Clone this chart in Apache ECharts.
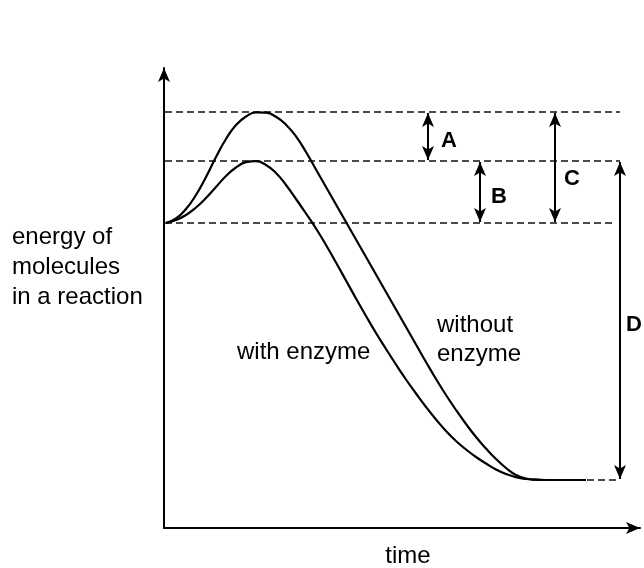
<!DOCTYPE html>
<html>
<head>
<meta charset="utf-8">
<script src="https://cdn.jsdelivr.net/npm/echarts@6/dist/echarts.min.js"></script>
<style>html,body{margin:0;padding:0;background:#fff}#c{width:644px;height:568px}</style>
</head>
<body>
<div id="c"></div>
<script>
// time / energy values (arbitrary units)
const timeX = [2,12,22,32,42,52,62,72,82,92,102,112,122,132,142,152,162,172,182,192,202,212,222,232,242,252,262,272,282,292,302,312,322,332,342,352,362,372,382,392,402,412,422];
const withoutY = [305,309.5,319,333,351,371,389,403,411.5,415.6,415.3,411.2,403.3,391.6,376,358.5,341,323.5,306,288.5,271,253.5,236,218.5,201,183.5,166,149,133,118,104,91,79.5,69,60,53,49.5,48.3,48,48,48,48,48];
const withY = [305,308,313,320.5,330,341,352,360.5,365.8,366.8,363,355,343,329,314.5,299.5,283,265.5,247.5,229.5,212,195,179,163.5,148.5,134.5,121,108.5,97,87,78.5,71,64.5,58.5,54,50.8,49,48.3,48,48,48,48,48];

// energy levels
const levelNames = ['peakWithout','peakWith','reactants','products'];
const levelY = [416,367,305,48];
const levelStartX = [1,1,1,423];
const levelEndX = [456,456,452,453];

// double-headed arrows
const arrowNames = ['A','B','C','D'];
const arrowX = [264,316,391,456];
const arrowTop = [415,366,415,366];
const arrowBottom = [368,306,306,49];
const arrowLabelX = [285,335,408,470];
const arrowLabelY = [387,331,349,203];

// curve labels
const curveLabels = ['without\nenzyme','with enzyme'];
const curveLabelX = [273,73];
const curveLabelY = [188,176];

const xMax = 476, yMax = 460;
const FONT = 'Liberation Sans, Arial, sans-serif';

const pairs = (xs, ys) => xs.map((x,i)=>[x, ys[i]]);

const series = [];
series.push({type:'line', name:'without enzyme', data:pairs(timeX, withoutY), smooth:0.5, showSymbol:false,
  lineStyle:{color:'#000', width:2.2}, silent:true, z:5});
series.push({type:'line', name:'with enzyme', data:pairs(timeX, withY), smooth:0.5, showSymbol:false,
  lineStyle:{color:'#000', width:2.2}, silent:true, z:5});
levelY.forEach((y,i)=>{
  series.push({type:'line', name:levelNames[i], data:[[levelStartX[i],y],[levelEndX[i],y]], showSymbol:false,
    lineStyle:{color:'#111', width:1.3, type:[7,4]}, silent:true, z:2});
});
series.push({type:'line', name:'arrows', data:[], silent:true,
  markLine:{silent:true, animation:false, symbol:['arrow','arrow'], symbolSize:[9,14],
    label:{show:false}, lineStyle:{color:'#000', width:2, type:'solid'},
    emphasis:{disabled:true},
    data: arrowNames.map((n,i)=>[{coord:[arrowX[i], arrowTop[i]]},{coord:[arrowX[i], arrowBottom[i]]}])
  }});
series.push({type:'scatter', name:'arrowLabels', symbolSize:0, silent:true, clip:false, itemStyle:{opacity:1},
  data: arrowNames.map((n,i)=>({value:[arrowLabelX[i], arrowLabelY[i]], name:n})),
  label:{show:true, position:'inside', formatter:p=>p.name, color:'#000', fontSize:22, fontWeight:'bold',
    fontFamily:FONT, textBorderWidth:0}});
series.push({type:'scatter', name:'curveLabels', symbolSize:0, silent:true, clip:false, itemStyle:{opacity:1},
  data: curveLabels.map((n,i)=>({value:[curveLabelX[i], curveLabelY[i]], name:n})),
  label:{show:true, position:'right', distance:0, align:'left', formatter:p=>p.name, color:'#000', fontSize:24,
    lineHeight:29, fontFamily:FONT, opacity:1}});

const chart = echarts.init(document.getElementById('c'), null, {renderer:'canvas'});
chart.setOption({
  animation:false,
  backgroundColor:'#fff',
  grid:{left:164, right:4, top:68, bottom:40, containLabel:false},
  xAxis:{type:'value', min:0, max:xMax, axisLine:{show:true, lineStyle:{color:'#000', width:2}, symbol:['none','arrow'], symbolSize:[9,14]},
    axisTick:{show:false}, axisLabel:{show:false}, splitLine:{show:false}},
  yAxis:{type:'value', min:0, max:yMax, axisLine:{show:true, lineStyle:{color:'#000', width:2}, symbol:['none','arrow'], symbolSize:[9,14]},
    axisTick:{show:false}, axisLabel:{show:false}, splitLine:{show:false}},
  graphic:[
    {type:'text', left:12, top:222, style:{text:'energy of\nmolecules\nin a reaction', fill:'#000', fontSize:24, lineHeight:30,
      fontFamily:FONT}},
    {type:'text', x:408, y:556, style:{text:'time', fill:'#000', fontSize:24, align:'center', verticalAlign:'middle',
      fontFamily:FONT}}
  ],
  series: series
});
</script>
</body>
</html>
